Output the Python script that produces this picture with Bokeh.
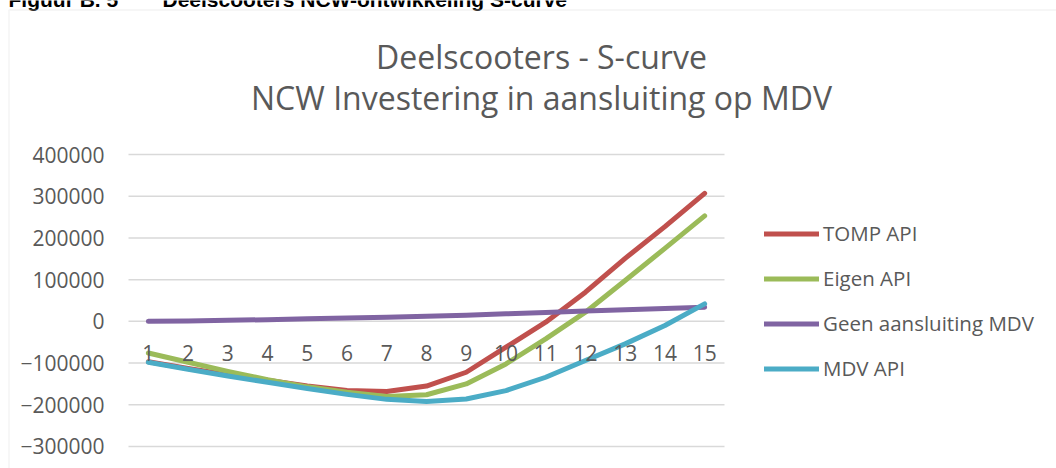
from bokeh.plotting import figure
from bokeh.models import (Range1d, FixedTicker, BasicTickFormatter, Legend, LegendItem,
                          Label, BoxAnnotation, LinearAxis)
from bokeh.embed import file_html
from bokeh.resources import INLINE

# ---- data ----
years = list(range(1, 16))
tick_labels = [str(v) for v in years]
tomp_api = [-97000, -113000, -128000, -141000, -155000, -166000, -168000, -155000,
            -122000, -62000, -2000, 70000, 151000, 227000, 307000]
eigen_api = [-76000, -98000, -120000, -140000, -157000, -170000, -180000, -176000,
             -150000, -102000, -42000, 22000, 98000, 175000, 253000]
geen_mdv = [0, 1000, 2500, 4000, 6000, 8000, 10000, 12000,
            14500, 18000, 21500, 25000, 28000, 31000, 34000]
mdv_api = [-98000, -115000, -131000, -146000, -161000, -175000, -187000, -192000,
           -186000, -166000, -134000, -94000, -54000, -10000, 42000]
y_ticks = [-300000, -200000, -100000, 0, 100000, 200000, 300000, 400000]
series_names = ["TOMP API", "Eigen API", "Geen aansluiting MDV", "MDV API"]
series_colors = ["#C0504D", "#9BBB59", "#8064A2", "#4BACC6"]
title_1 = "Deelscooters - S-curve"
title_2 = "NCW Investering in aansluiting op MDV"
header_1 = "Figuur B. 5"
header_2 = "Deelscooters NCW-ontwikkeling S-curve"

FONT = "Open Sans"
GRAY = "#595959"
W, H = 1056, 468

# plot area spans whole canvas; ranges chosen so the chart region sits where it should
p = figure(width=W, height=H, output_backend="svg", toolbar_location=None,
           x_range=Range1d(-2.7215, 23.8557), y_range=Range1d(-352740, 769181),
           x_axis_location=None, y_axis_location=None,
           min_border_left=0, min_border_right=0, min_border_top=0, min_border_bottom=0)
p.outline_line_color = None
p.background_fill_color = "white"
p.border_fill_color = "white"
p.xgrid.visible = False
p.ygrid.visible = False

# horizontal gridlines across the category span
x_lo, x_hi = min(years) - 0.5, max(years) + 0.5
p.segment(x0=[x_lo] * len(y_ticks), x1=[x_hi] * len(y_ticks), y0=y_ticks, y1=y_ticks,
          line_color="#D9D9D9", line_width=1.5)

# y axis at left edge of the category span
yax = LinearAxis(fixed_location=x_lo, ticker=FixedTicker(ticks=y_ticks),
                 formatter=BasicTickFormatter(use_scientific=False))
yax.axis_line_color = None
yax.major_tick_line_color = None
yax.minor_tick_line_color = None
yax.major_tick_out = 0
yax.major_label_standoff = 24
yax.major_label_text_font = FONT
yax.major_label_text_font_size = "21px"
yax.major_label_text_color = GRAY
p.add_layout(yax, "left")

# x axis crossing at 0
xax = LinearAxis(fixed_location=0, ticker=FixedTicker(ticks=years))
xax.major_label_overrides = {y: s for y, s in zip(years, tick_labels)}
xax.axis_line_color = None
xax.major_tick_line_color = None
xax.minor_tick_line_color = None
xax.major_tick_out = 0
xax.major_label_standoff = 24
xax.major_label_text_font = FONT
xax.major_label_text_font_size = "21px"
xax.major_label_text_color = GRAY
p.add_layout(xax, "below")

# lines
renderers = []
for vals, color in zip([tomp_api, eigen_api, geen_mdv, mdv_api], series_colors):
    r = p.line(years, vals, line_color=color, line_width=5,
               line_cap="round", line_join="round")
    renderers.append(r)

legend = Legend(items=[LegendItem(label=n, renderers=[r]) for n, r in zip(series_names, renderers)],
                location=(764, 86), orientation="vertical",
                glyph_width=55, glyph_height=27, label_height=27, label_standoff=4,
                spacing=17, padding=0, margin=0,
                border_line_color=None, background_fill_alpha=0,
                label_text_font=FONT, label_text_font_size="20.5px", label_text_color=GRAY)
p.add_layout(legend, "center")

# titles
for txt, yy in [(title_1, H - 56), (title_2, H - 97)]:
    p.add_layout(Label(x=541, y=yy, x_units="screen", y_units="screen", text=txt,
                       text_align="center", text_baseline="alphabetic",
                       text_font=FONT, text_font_size="32px", text_color=GRAY))

# document header (cut off at the top)
for txt, xx in [(header_1, 8), (header_2, 162)]:
    p.add_layout(Label(x=xx, y=H + 1, x_units="screen", y_units="screen", text=txt,
                       text_align="left", text_baseline="alphabetic",
                       text_font="Liberation Sans", text_font_style="bold",
                       text_font_size="21px", text_color="black"))

# chart border
p.add_layout(BoxAnnotation(left=8.5, right=W + 50, top=H - 9.5, bottom=-50,
                           left_units="screen", right_units="screen",
                           top_units="screen", bottom_units="screen",
                           fill_color=None, fill_alpha=0,
                           line_color="#D9D9D9", line_width=1.5))

open("out.html", "w").write(file_html(p, INLINE))
